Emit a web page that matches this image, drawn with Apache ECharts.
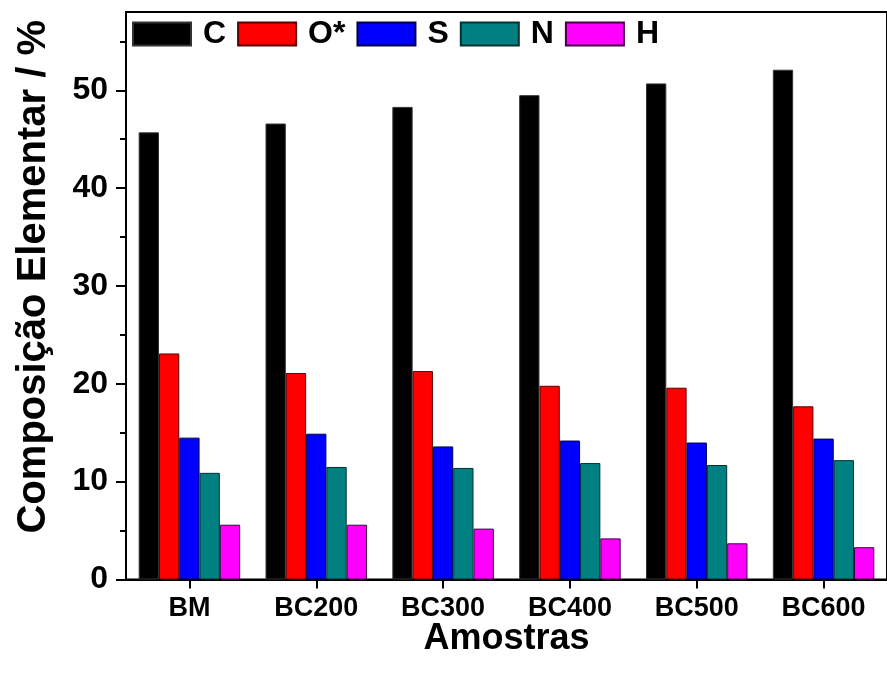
<!DOCTYPE html>
<html>
<head>
<meta charset="utf-8">
<script src="https://cdn.jsdelivr.net/npm/echarts@6/dist/echarts.min.js"></script>
<style>html,body{margin:0;padding:0;background:#fff;}#c{width:887px;height:677px;}</style>
</head>
<body>
<div id="c"></div>
<script>
const categories = ['BM', 'BC200', 'BC300', 'BC400', 'BC500', 'BC600'];
const seriesNames = ['C', 'O*', 'S', 'N', 'H'];
const valuesC = [45.7, 46.6, 48.3, 49.5, 50.7, 52.1];
const valuesO = [23.1, 21.1, 21.3, 19.8, 19.6, 17.7];
const valuesS = [14.5, 14.9, 13.6, 14.2, 14.0, 14.4];
const valuesN = [10.9, 11.5, 11.4, 11.9, 11.7, 12.2];
const valuesH = [5.6, 5.6, 5.2, 4.2, 3.7, 3.3];
const majorTicks = [0, 10, 20, 30, 40, 50];
const minorTicks = [5, 15, 25, 35, 45, 55];

const colors = ['#000000', '#ff0000', '#0000ff', '#008080', '#ff00ff'];
const borders = ['#333333', '#550000', '#000044', '#003333', '#440044'];
const allValues = [valuesC, valuesO, valuesS, valuesN, valuesH];
const FONT = '"Liberation Sans", Arial, Helvetica, sans-serif';

const chart = echarts.init(document.getElementById('c'), null, {renderer: 'canvas'});
chart.setOption({
  animation: false,
  backgroundColor: '#ffffff',
  textStyle: {fontFamily: FONT, color: '#000'},
  grid: {
    left: 126, right: -9, top: 12, bottom: 97.5,
    show: true, borderColor: '#000', borderWidth: 2, backgroundColor: 'transparent'
  },
  legend: {
    left: 132, top: 18, padding: 0,
    icon: 'rect', itemWidth: 58, itemHeight: 23, itemGap: 11,
    textStyle: {fontSize: 32, fontWeight: 'bold', color: '#000', fontFamily: FONT, padding: [0, 0, 0, 7]},
    data: seriesNames
  },
  xAxis: {
    type: 'category',
    data: categories,
    name: 'Amostras',
    nameLocation: 'middle',
    nameGap: 42,
    nameMoveOverlap: false,
    nameTextStyle: {fontSize: 36, fontWeight: 'bold', color: '#000', fontFamily: FONT},
    axisLine: {show: true, lineStyle: {color: '#000', width: 2}},
    axisTick: {show: true, alignWithLabel: true, length: 9, lineStyle: {color: '#000', width: 2}},
    axisLabel: {fontSize: 27, fontWeight: 'bold', color: '#000', margin: 16, fontFamily: FONT},
    splitLine: {show: false}
  },
  yAxis: [{
    type: 'value',
    min: 0, max: 58,
    name: 'Composição Elementar / %',
    nameLocation: 'middle',
    nameGap: 72,
    nameMoveOverlap: false,
    nameTextStyle: {fontSize: 40, fontWeight: 'bold', color: '#000', fontFamily: FONT, padding: [0, 0, 0, 38]},
    axisLine: {show: true, lineStyle: {color: '#000', width: 2}},
    axisTick: {show: true, length: 10, customValues: majorTicks, lineStyle: {color: '#000', width: 2}},
    axisLabel: {fontSize: 32, fontWeight: 'bold', color: '#000', margin: 18, customValues: majorTicks, fontFamily: FONT},
    splitLine: {show: false}
  }, {
    type: 'value',
    min: 0, max: 58,
    position: 'left',
    axisLine: {show: false},
    axisTick: {show: true, length: 6, customValues: minorTicks, lineStyle: {color: '#000', width: 2}},
    axisLabel: {show: false},
    splitLine: {show: false}
  }],
  series: seriesNames.map((n, i) => ({
    name: n,
    type: 'bar',
    data: allValues[i],
    barGap: '0%',
    barCategoryGap: '20%',
    itemStyle: {color: colors[i], borderColor: borders[i], borderWidth: 1}
  }))
});
</script>
</body>
</html>
